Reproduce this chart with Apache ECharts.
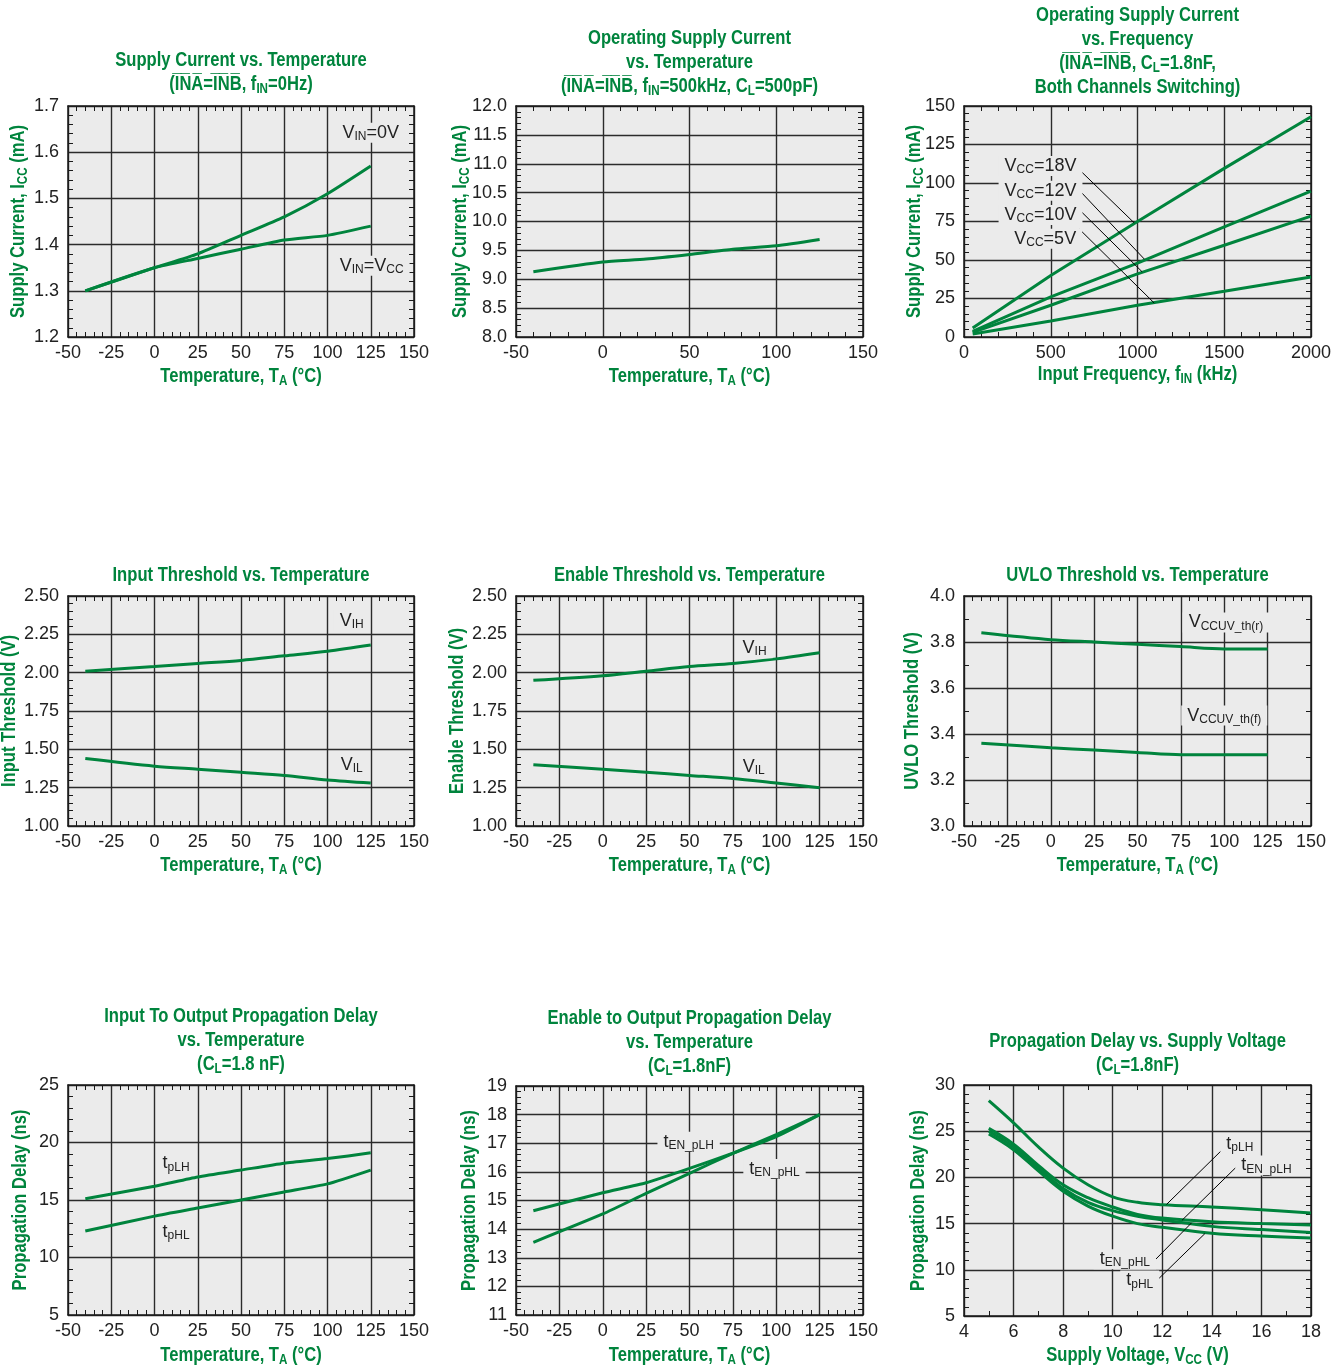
<!DOCTYPE html>
<html><head><meta charset="utf-8">
<script src="https://cdn.jsdelivr.net/npm/echarts@6/dist/echarts.min.js"></script>
<style>html,body{margin:0;padding:0;background:#fff}#c{width:1341px;height:1367px}</style>
</head><body><div id="c"></div>
<script>
// ---------------- data ----------------
const tempX = [-40, 0, 25, 50, 75, 100, 125];
const iccVin0V  = [1.30, 1.35, 1.38, 1.42, 1.46, 1.51, 1.57];
const iccVinVcc = [1.30, 1.35, 1.37, 1.39, 1.41, 1.42, 1.44];
const iccOperating = [9.13, 9.30, 9.35, 9.43, 9.52, 9.58, 9.69];
const freqX = [50, 500, 1000, 1500, 2000];
const iccVcc18 = [5.9, 40.0, 75.0, 109.5, 143.0];
const iccVcc12 = [3.7, 26.0, 48.0, 71.5, 94.7];
const iccVcc10 = [3.0, 20.6, 41.0, 59.6, 78.5];
const iccVcc5  = [2.0, 10.4, 20.6, 29.7, 39.0];
const inVIH = [2.01, 2.04, 2.06, 2.08, 2.11, 2.14, 2.18];
const inVIL = [1.44, 1.39, 1.37, 1.35, 1.33, 1.30, 1.28];
const enVIH = [1.95, 1.98, 2.01, 2.04, 2.06, 2.09, 2.13];
const enVIL = [1.40, 1.37, 1.35, 1.33, 1.31, 1.28, 1.25];
const uvloRise = [3.84, 3.81, 3.80, 3.79, 3.78, 3.77, 3.77];
const uvloFall = [3.36, 3.34, 3.33, 3.32, 3.31, 3.31, 3.31];
const tpLH = [15.1, 16.2, 17.0, 17.6, 18.2, 18.6, 19.1];
const tpHL = [12.3, 13.6, 14.3, 15.0, 15.7, 16.4, 17.6];
const tENpLH = [14.64, 15.27, 15.62, 16.12, 16.65, 17.23, 18.0];
const tENpHL = [13.54, 14.53, 15.25, 15.95, 16.65, 17.30, 18.0];
const vccX = [5, 6, 7, 8, 9, 10, 11, 12, 14, 16, 18];
const vTpLH   = [28.3, 25.9, 23.3, 21.0, 19.2, 17.9, 17.3, 17.05, 16.8, 16.5, 16.15];
const vTENpLH = [25.3, 23.6, 21.3, 19.2, 17.8, 16.8, 16.0, 15.6, 15.2, 15.0, 14.85];
const vTENpHL = [25.0, 23.3, 21.0, 18.8, 17.3, 16.4, 15.8, 15.4, 14.7, 14.35, 14.05];
const vTpHL   = [24.7, 23.0, 20.7, 18.5, 16.9, 15.8, 15.0, 14.6, 13.95, 13.65, 13.45];

// axis ranges [min, max, interval]
const tempAxis = [-50, 150, 25];
const tempAxis50 = [-50, 150, 50];
const freqAxis = [0, 2000, 500];
const vccAxis = [4, 18, 2];
const iccAxis = [1.2, 1.7, 0.1];
const iccOpAxis = [8.0, 12.0, 0.5];
const iccFreqAxis = [0, 150, 25];
const thrAxis = [1.0, 2.5, 0.25];
const uvloAxis = [3.0, 4.0, 0.2];
const delayAxis = [5, 25, 5];
const enDelayAxis = [11, 19, 1];
const vDelayAxis = [5, 30, 5];

// ---------------- style ----------------
const FONT = "'Liberation Sans', Arial, sans-serif";
const GREEN = '#00843D';
const INK = '#222222';
const PLOTBG = '#ebebeb';
const SQUEEZE = 0.83;
const OV = '\u0305';
const ov = s => s.split('').map(c => c + OV).join('');

const panels = [
  { grid: [68, 106, 346, 231], x: tempAxis, y: iccAxis, yDec: 1, xMinor: 5, yMinor: 5,
    title: 'Supply Current vs. Temperature\n(' + ov('INA') + '=' + ov('INB') + ', f{s|IN}=0Hz)', titleTop: 48,
    xName: 'Temperature, T{s|A} (°C)', xNameY: 376, yName: 'Supply Current, I{s|CC} (mA)', yNameOff: 50,
    series: [[tempX, iccVin0V], [tempX, iccVinVcc]], smooth: 0.2,
    notes: [{at: [125, 1.642], text: 'V{s|IN}=0V'}, {at: [125.5, 1.354], text: 'V{s|IN}=V{s|CC}'}], leaders: [] },
  { grid: [516, 106, 347, 231], x: tempAxis50, y: iccOpAxis, yDec: 1, xMinor: 5, yMinor: 5,
    title: 'Operating Supply Current\nvs. Temperature\n(' + ov('INA') + '=' + ov('INB') + ', f{s|IN}=500kHz, C{s|L}=500pF)', titleTop: 26,
    xName: 'Temperature, T{s|A} (°C)', xNameY: 376, yName: 'Supply Current, I{s|CC} (mA)', yNameOff: 56,
    series: [[tempX, iccOperating]], smooth: 0.2, notes: [], leaders: [] },
  { grid: [964, 106, 347, 231], x: freqAxis, y: iccFreqAxis, yDec: 0, xMinor: 5, yMinor: 5,
    title: 'Operating Supply Current\nvs. Frequency\n(' + ov('INA') + '=' + ov('INB') + ', C{s|L}=1.8nF,\nBoth Channels Switching)', titleTop: 3,
    xName: 'Input Frequency, f{s|IN} (kHz)', xNameY: 374, yName: 'Supply Current, I{s|CC} (mA)', yNameOff: 50,
    series: [[freqX, iccVcc18], [freqX, iccVcc12], [freqX, iccVcc10], [freqX, iccVcc5]], smooth: 0,
    notes: [{at: [441, 111], text: 'V{s|CC}=18V'}, {at: [441, 95], text: 'V{s|CC}=12V'},
            {at: [441, 79.3], text: 'V{s|CC}=10V'}, {at: [468, 63.8], text: 'V{s|CC}=5V'}],
    leaders: [[[667, 108.4], [981, 74.1]], [[667, 95], [1040, 50.5]], [[667, 82.4], [1027, 42.3]], [[667, 69.8], [1096, 22.1]]] },
  { grid: [68, 596, 346, 230], x: tempAxis, y: thrAxis, yDec: 2, xMinor: 5, yMinor: 5,
    title: 'Input Threshold vs. Temperature', titleTop: 563,
    xName: 'Temperature, T{s|A} (°C)', xNameY: 865, yName: 'Input Threshold (V)', yNameOff: 59,
    series: [[tempX, inVIH], [tempX, inVIL]], smooth: 0.3,
    notes: [{at: [114, 2.34], text: 'V{s|IH}'}, {at: [114, 1.40], text: 'V{s|IL}'}], leaders: [] },
  { grid: [516, 596, 347, 230], x: tempAxis, y: thrAxis, yDec: 2, xMinor: 5, yMinor: 5,
    title: 'Enable Threshold vs. Temperature', titleTop: 563,
    xName: 'Temperature, T{s|A} (°C)', xNameY: 865, yName: 'Enable Threshold (V)', yNameOff: 59,
    series: [[tempX, enVIH], [tempX, enVIL]], smooth: 0.3,
    notes: [{at: [87.5, 2.16], text: 'V{s|IH}'}, {at: [87, 1.386], text: 'V{s|IL}'}], leaders: [] },
  { grid: [964, 596, 347, 230], x: tempAxis, y: uvloAxis, yDec: 1, xMinor: 5, yMinor: 2,
    title: 'UVLO Threshold vs. Temperature', titleTop: 563,
    xName: 'Temperature, T{s|A} (°C)', xNameY: 865, yName: 'UVLO Threshold (V)', yNameOff: 52,
    series: [[tempX, uvloRise], [tempX, uvloFall]], smooth: 0.3,
    notes: [{at: [101, 3.885], text: 'V{s|CCUV_th(r)}'}, {at: [100, 3.48], text: 'V{s|CCUV_th(f)}'}], leaders: [] },
  { grid: [68, 1085, 346, 230], x: tempAxis, y: delayAxis, yDec: 0, xMinor: 5, yMinor: 5,
    title: 'Input To Output Propagation Delay\nvs. Temperature\n(C{s|L}=1.8 nF)', titleTop: 1004,
    xName: 'Temperature, T{s|A} (°C)', xNameY: 1355, yName: 'Propagation Delay (ns)', yNameOff: 48,
    series: [[tempX, tpLH], [tempX, tpHL]], smooth: 0.2,
    notes: [{at: [12.5, 18.19], text: 't{s|pLH}'}, {at: [12.5, 12.25], text: 't{s|pHL}'}], leaders: [] },
  { grid: [516, 1086, 347, 229], x: tempAxis, y: enDelayAxis, yDec: 0, xMinor: 5, yMinor: 5,
    title: 'Enable to Output Propagation Delay\nvs. Temperature\n(C{s|L}=1.8nF)', titleTop: 1006,
    xName: 'Temperature, T{s|A} (°C)', xNameY: 1355, yName: 'Propagation Delay (ns)', yNameOff: 47,
    series: [[tempX, tENpLH], [tempX, tENpHL]], smooth: 0.2,
    notes: [{at: [49.5, 17.05], text: 't{s|EN_pLH}'}, {at: [99, 16.1], text: 't{s|EN_pHL}'}], leaders: [] },
  { grid: [964, 1085, 347, 231], x: vccAxis, y: vDelayAxis, yDec: 0, xMinor: 2, yMinor: 5,
    title: 'Propagation Delay vs. Supply Voltage\n(C{s|L}=1.8nF)', titleTop: 1029,
    xName: 'Supply Voltage, V{s|CC} (V)', xNameY: 1355, yName: 'Propagation Delay (ns)', yNameOff: 46,
    series: [[vccX, vTpLH], [vccX, vTENpLH], [vccX, vTENpHL], [vccX, vTpHL]], smooth: 0.4,
    notes: [{at: [15.13, 23.6], text: 't{s|pLH}'}, {at: [16.2, 21.3], text: 't{s|EN_pLH}'},
            {at: [11.09, 8.85], text: 't{s|pHL}'}, {at: [10.49, 11.15], text: 't{s|EN_pHL}'}],
    leaders: [[[14.46, 23.1], [12.17, 17.07]], [[15.13, 21.5], [12.8, 15.37]], [[11.67, 10.96], [13.18, 15.08]], [[11.86, 9.05], [13.72, 13.92]]] }
];

const option = {animation: false, backgroundColor: '#ffffff', grid: [], xAxis: [], yAxis: [], series: [], graphic: []};

const axLine = {show: true, onZero: false, lineStyle: {color: '#1a1a1a', width: 1.5}};
const minor = n => ({show: true, splitNumber: n, length: 5, lineStyle: {color: '#1a1a1a', width: 1}});
const split = {show: true, lineStyle: {color: '#2b2b2b', width: 1.4}};
const labelStyle = {fontFamily: FONT, fontSize: 18, color: INK};
const noteRich = {s: {fontFamily: FONT, fontSize: 12, color: INK, lineHeight: 12, verticalAlign: 'bottom'}};
const noteStyle = {fontFamily: FONT, fontSize: 18, color: INK, lineHeight: 20, rich: noteRich};
const greenRich = {s: {fontFamily: FONT, fontSize: 14, fontWeight: 'bold', fill: GREEN, color: GREEN, lineHeight: 13, verticalAlign: 'bottom'}};

function greenText(text, x, y, vAlign, rot) {
  return {
    type: 'text', x: x, y: y, scaleX: SQUEEZE, rotation: rot || 0, silent: true, z: 10,
    style: {text: text, fontFamily: FONT, fontSize: 20, fontWeight: 'bold', fill: GREEN,
            align: 'center', verticalAlign: vAlign, lineHeight: 24, rich: greenRich}
  };
}

panels.forEach((p, i) => {
  const [gl, gt, gw, gh] = p.grid;
  const cx = gl + gw / 2;
  option.grid.push({left: gl, top: gt, width: gw, height: gh, show: true, backgroundColor: PLOTBG, borderWidth: 0});
  option.graphic.push(greenText(p.title, cx, p.titleTop, 'top'));
  option.graphic.push(greenText(p.xName, cx, p.xNameY, 'middle'));
  option.graphic.push(greenText(p.yName, gl - p.yNameOff, gt + gh / 2, 'middle', Math.PI / 2));
  const fx = v => String(v);
  const fy = v => v.toFixed(p.yDec);
  option.xAxis.push({
    gridIndex: i, type: 'value', position: 'bottom', min: p.x[0], max: p.x[1], interval: p.x[2],
    axisLine: axLine, axisTick: {show: false, inside: true}, minorTick: minor(p.xMinor), splitLine: split,
    axisLabel: Object.assign({margin: 7, formatter: fx}, labelStyle)
  });
  option.xAxis.push({
    gridIndex: i, type: 'value', position: 'top', min: p.x[0], max: p.x[1], interval: p.x[2],
    axisLine: axLine, axisTick: {show: false, inside: true}, minorTick: minor(p.xMinor),
    splitLine: {show: false}, axisLabel: {show: false}
  });
  option.yAxis.push({
    gridIndex: i, type: 'value', position: 'left', min: p.y[0], max: p.y[1], interval: p.y[2],
    axisLine: axLine, axisTick: {show: false, inside: true}, minorTick: minor(p.yMinor), splitLine: split,
    axisLabel: Object.assign({margin: 9, formatter: fy}, labelStyle)
  });
  option.yAxis.push({
    gridIndex: i, type: 'value', position: 'right', min: p.y[0], max: p.y[1], interval: p.y[2],
    axisLine: axLine, axisTick: {show: false, inside: true}, minorTick: minor(p.yMinor),
    splitLine: {show: false}, axisLabel: {show: false}
  });
  p.series.forEach((s, k) => {
    const ser = {
      type: 'line', xAxisIndex: 2 * i, yAxisIndex: 2 * i, z: 3,
      data: s[0].map((x, j) => [x, s[1][j]]),
      symbol: 'none', smooth: p.smooth, lineStyle: {color: GREEN, width: 3}, silent: true
    };
    if (k === 0) {
      ser.markPoint = {
        silent: true, symbol: 'circle', symbolSize: 1, itemStyle: {color: 'rgba(0,0,0,0)'},
        label: Object.assign({show: true, position: 'inside', backgroundColor: PLOTBG, padding: [0, 6]}, noteStyle),
        data: p.notes.map(n => ({coord: n.at, label: {formatter: () => n.text}}))
      };
      ser.markLine = {
        silent: true, symbol: ['none', 'none'], label: {show: false},
        lineStyle: {color: '#000', width: 1, type: 'solid'},
        data: p.leaders.map(l => [{coord: l[0]}, {coord: l[1]}])
      };
    }
    option.series.push(ser);
  });
});

const chart = echarts.init(document.getElementById('c'), null, {renderer: 'canvas'});
chart.setOption(option);
</script>
</body></html>
